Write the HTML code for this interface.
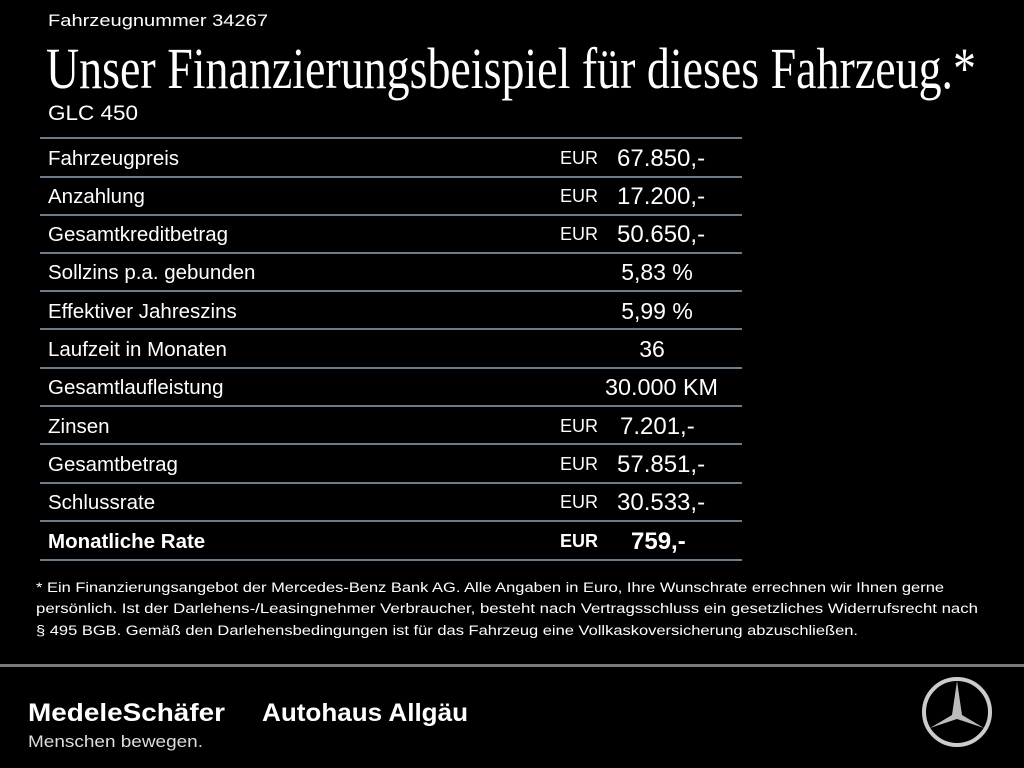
<!DOCTYPE html>
<html><head><meta charset="utf-8"><style>html,body{margin:0;background:#000;}svg{display:block}</style></head><body>
<svg width="1024" height="768" viewBox="0 0 1024 768" xmlns="http://www.w3.org/2000/svg" font-family="Liberation Sans, sans-serif" fill="#fff">
<rect width="1024" height="768" fill="#000"/>
<text x="48" y="26" font-size="17" textLength="220" lengthAdjust="spacingAndGlyphs">Fahrzeugnummer 34267</text>
<text x="46" y="88" font-size="58" font-family="Liberation Serif, serif" textLength="930" lengthAdjust="spacingAndGlyphs">Unser Finanzierungsbeispiel für dieses Fahrzeug.*</text>
<text x="48" y="120" font-size="21" textLength="90" lengthAdjust="spacingAndGlyphs">GLC 450</text>
<g stroke="#6b7b8c" stroke-width="2">
<line x1="40" x2="742" y1="138" y2="138"/><line x1="40" x2="742" y1="177" y2="177"/><line x1="40" x2="742" y1="215" y2="215"/><line x1="40" x2="742" y1="253" y2="253"/><line x1="40" x2="742" y1="291" y2="291"/><line x1="40" x2="742" y1="329" y2="329"/><line x1="40" x2="742" y1="368" y2="368"/><line x1="40" x2="742" y1="406" y2="406"/><line x1="40" x2="742" y1="444" y2="444"/><line x1="40" x2="742" y1="483" y2="483"/><line x1="40" x2="742" y1="521" y2="521"/><line x1="40" x2="742" y1="560" y2="560"/>
</g>
<g font-size="20.5">
<text x="48" y="165">Fahrzeugpreis</text><text x="560" y="164" font-size="18">EUR</text><text x="617" y="166" font-size="24">67.850,-</text>
<text x="48" y="203">Anzahlung</text><text x="560" y="202" font-size="18">EUR</text><text x="617" y="204" font-size="24">17.200,-</text>
<text x="48" y="241">Gesamtkreditbetrag</text><text x="560" y="240" font-size="18">EUR</text><text x="617" y="242" font-size="24">50.650,-</text>
<text x="48" y="279">Sollzins p.a. gebunden</text><text x="657" y="280" font-size="23" text-anchor="middle">5,83 %</text>
<text x="48" y="318">Effektiver Jahreszins</text><text x="657" y="319" font-size="23" text-anchor="middle">5,99 %</text>
<text x="48" y="356">Laufzeit in Monaten</text><text x="652" y="357" font-size="23" text-anchor="middle">36</text>
<text x="48" y="394">Gesamtlaufleistung</text><text x="605" y="395" font-size="23" textLength="113" lengthAdjust="spacingAndGlyphs">30.000 KM</text>
<text x="48" y="433">Zinsen</text><text x="560" y="432" font-size="18">EUR</text><text x="620" y="434" font-size="24">7.201,-</text>
<text x="48" y="471">Gesamtbetrag</text><text x="560" y="470" font-size="18">EUR</text><text x="617" y="472" font-size="24">57.851,-</text>
<text x="48" y="509">Schlussrate</text><text x="560" y="508" font-size="18">EUR</text><text x="617" y="510" font-size="24">30.533,-</text>
<text x="48" y="548" font-weight="bold">Monatliche Rate</text><text x="560" y="547" font-size="18" font-weight="bold">EUR</text><text x="631" y="549" font-size="24" font-weight="bold">759,-</text>
</g>
<g font-size="13.5">
<text x="36" y="592" textLength="908" lengthAdjust="spacingAndGlyphs">* Ein Finanzierungsangebot der Mercedes-Benz Bank AG. Alle Angaben in Euro, Ihre Wunschrate errechnen wir Ihnen gerne</text>
<text x="36" y="613" textLength="942" lengthAdjust="spacingAndGlyphs">persönlich. Ist der Darlehens-/Leasingnehmer Verbraucher, besteht nach Vertragsschluss ein gesetzliches Widerrufsrecht nach</text>
<text x="36" y="635" textLength="822" lengthAdjust="spacingAndGlyphs">§ 495 BGB. Gemäß den Darlehensbedingungen ist für das Fahrzeug eine Vollkaskoversicherung abzuschließen.</text>
</g>
<rect x="0" y="664" width="1024" height="3" fill="#7a7a7a"/>
<text x="28" y="721" font-size="25" font-weight="bold" textLength="197" lengthAdjust="spacingAndGlyphs">MedeleSchäfer</text>
<text x="262" y="721" font-size="25" font-weight="bold" textLength="206" lengthAdjust="spacingAndGlyphs">Autohaus Allgäu</text>
<text x="28" y="747" font-size="17" fill="#ddd" textLength="175" lengthAdjust="spacingAndGlyphs">Menschen bewegen.</text>
<g transform="translate(957,712)" fill="none" stroke="#ccc">
<circle r="33" stroke-width="4"/>
<path d="M0,-31 L5,3 L27,16 L0,7 L-27,16 L-5,3 Z" fill="#bbb" stroke="none"/>
</g>
</svg>
</body></html>
